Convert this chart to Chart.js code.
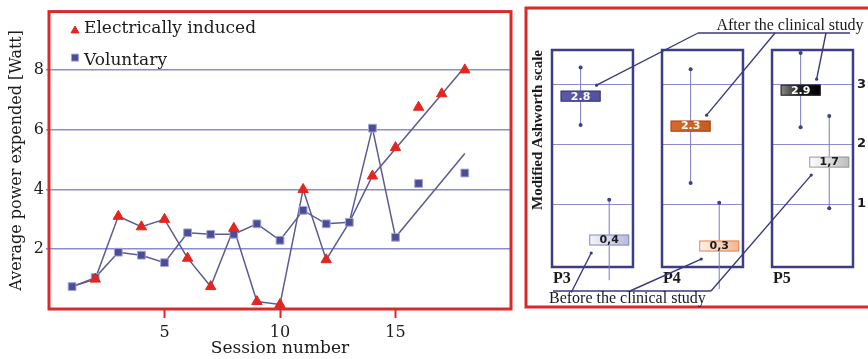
<!DOCTYPE html>
<html>
<head>
<meta charset="utf-8">
<script src="https://cdn.jsdelivr.net/npm/chart.js@4.4.1/dist/chart.umd.min.js"></script>
<style>
  body { margin: 0; background: #fff; width: 868px; height: 359px; overflow: hidden; position: relative; }
  #powerWrap { position: absolute; left: 0; top: 0; width: 518px; height: 359px; }
  #ashWrap { position: absolute; left: 520px; top: 0; width: 348px; height: 359px; }
</style>
</head>
<body>
<div id="powerWrap"><canvas id="powerChart" width="518" height="359"></canvas></div>
<div id="ashWrap"><canvas id="ashworthChart" width="348" height="359"></canvas></div>
<script>
// ---- left panel data: average power per session ----
const sessions   = [1, 2, 3, 4, 5, 6, 7, 8, 9, 10, 11, 12, 13, 14, 15, 16, 17, 18];
const electrical = [null, 1.0, 3.1, 2.75, 3.0, 1.7, 0.75, 2.7, 0.25, 0.15, 4.0, 1.65, null, 4.45, 5.4, 6.75, 7.2, 8.0];
const voluntary  = [0.75, 1.05, 1.9, 1.8, 1.55, 2.55, 2.5, 2.5, 2.85, 2.3, 3.3, 2.85, 2.9, 6.05, 2.4, 4.2, null, 4.55];
// connecting lines as drawn in the figure (last point = end of trend line)
const electricalLineX = [1, 2, 3, 4, 5, 6, 7, 8, 9, 10, 11, 12, 13, 14, 18];
const electricalLineY = [0.75, 1.0, 3.1, 2.75, 3.0, 1.7, 0.75, 2.7, 0.25, 0.15, 4.0, 1.65, 2.9, 4.45, 8.1];
const voluntaryLineX  = [1, 2, 3, 4, 5, 6, 7, 8, 9, 10, 11, 12, 13, 14, 15, 18];
const voluntaryLineY  = [0.75, 1.05, 1.9, 1.8, 1.55, 2.55, 2.5, 2.5, 2.85, 2.3, 3.3, 2.85, 2.9, 6.05, 2.4, 5.2];
const seriesNames = ['Electrically induced', 'Voluntary'];
const powerTicks = [2, 4, 6, 8];
const sessionTicks = [5, 10, 15];

// ---- right panel data: Modified Ashworth scale ----
const patients      = ['P3', 'P4', 'P5'];
const afterValues   = [2.8, 2.3, 2.9];
const afterSpread   = [0.48, 0.95, 0.62];
const beforeValues  = [0.4, 0.3, 1.7];
const beforeSpread  = [0.67, 0.72, 0.77];
const ashworthTicks = [1, 2, 3];

const RED = '#d92a2b';
const GRID = '#8b8bd0';
const LINE = '#5c5c93';
const serif = 'DejaVu Serif';

// red frame round the plot area
const redFrame = {
  id: 'redFrame',
  afterDatasetsDraw(chart, args, opts) {
    const { ctx, chartArea } = chart;
    const m = opts.margin || { l: 0, t: 0, r: 0, b: 0 };
    ctx.save();
    ctx.strokeStyle = RED;
    ctx.lineWidth = 3;
    ctx.strokeRect(chartArea.left - m.l, chartArea.top - m.t,
      chartArea.right - chartArea.left + m.l + m.r, chartArea.bottom - chartArea.top + m.t + m.b);
    ctx.restore();
  }
};

// legend drawn inside the plot, one item per row
const insideLegend = {
  id: 'insideLegend',
  afterDraw(chart) {
    const { ctx, chartArea } = chart;
    ctx.save();
    ctx.font = '17px "' + serif + '"';
    ctx.textBaseline = 'alphabetic';
    seriesNames.forEach((name, i) => {
      const ds = chart.data.datasets[i];
      const y = chartArea.top + 21 + i * 32;
      ctx.fillStyle = ds.backgroundColor;
      ctx.strokeStyle = ds.borderColor;
      Chart.helpers.drawPoint(ctx, { pointStyle: ds.pointStyle, radius: i === 0 ? 4.6 : 5, rotation: 0, borderWidth: 1 },
        chartArea.left + 26, y - (i === 0 ? 2 : 7));
      ctx.fillStyle = '#1b1b1b';
      ctx.fillText(name, chartArea.left + 35, y);
    });
    ctx.restore();
  }
};

new Chart(document.getElementById('powerChart'), {
  type: 'scatter',
  data: {
    datasets: [
      {
        label: seriesNames[0],
        data: sessions.map((s, i) => ({ x: s, y: electrical[i] })).filter(p => p.y !== null),
        pointStyle: 'triangle', pointRadius: 6,
        backgroundColor: '#e3261f', borderColor: '#e3261f', borderWidth: 1
      },
      {
        label: seriesNames[1],
        data: sessions.map((s, i) => ({ x: s, y: voluntary[i] })).filter(p => p.y !== null),
        pointStyle: 'rect', pointRadius: 5.5,
        backgroundColor: '#4d4d96', borderColor: '#a4a4d6', borderWidth: 1
      },
      {
        label: 'electrical line',
        data: electricalLineX.map((x, i) => ({ x: x, y: electricalLineY[i] })),
        showLine: true, pointRadius: 0, borderColor: LINE, borderWidth: 1.5
      },
      {
        label: 'voluntary line',
        data: voluntaryLineX.map((x, i) => ({ x: x, y: voluntaryLineY[i] })),
        showLine: true, pointRadius: 0, borderColor: LINE, borderWidth: 1.5
      }
    ]
  },
  options: {
    responsive: false,
    animation: false,
    devicePixelRatio: 1,
    layout: { padding: { top: 8, right: 6, left: 0, bottom: 0 } },
    plugins: { legend: { display: false }, tooltip: { enabled: false }, redFrame: {} },
    scales: {
      x: {
        type: 'linear', min: 0, max: 20,
        afterBuildTicks: s => { s.ticks = sessionTicks.map(v => ({ value: v })); },
        afterFit: s => { s.height = 50; },
        grid: { drawOnChartArea: false, drawTicks: true, tickLength: 9, tickColor: RED, tickWidth: 2 },
        border: { display: false },
        ticks: { padding: 5, color: '#1b1b1b', font: { family: serif, size: 16 } },
        title: { display: true, text: 'Session number', color: '#1b1b1b', font: { family: serif, size: 17 }, padding: { top: 0, bottom: 0 } }
      },
      y: {
        min: 0, max: 9.95,
        afterBuildTicks: s => { s.ticks = powerTicks.map(v => ({ value: v })); },
        afterFit: s => { s.width = 49; },
        grid: { color: GRID, lineWidth: 1.5, tickLength: 3 },
        border: { display: false },
        ticks: { padding: 2, color: '#1b1b1b', font: { family: serif, size: 16 } },
        title: { display: true, text: 'Average power expended [Watt]', color: '#1b1b1b', font: { family: serif, size: 16 }, padding: { top: 7, bottom: 0 } }
      }
    }
  },
  plugins: [redFrame, insideLegend]
});

// ---- right panel ----
const boxWidth = 0.736;     // width of each patient box in x units
const afterOffset = 0.26;   // bar positions inside a box
const beforeOffset = 0.52;

const errorBars = [];
patients.forEach((p, i) => {
  [[afterValues, afterSpread, afterOffset, 'after'], [beforeValues, beforeSpread, beforeOffset, 'before']].forEach(([vals, spread, off, tag]) => {
    errorBars.push({
      label: p + ' ' + tag,
      data: [{ x: i + off, y: vals[i] - spread[i] }, { x: i + off, y: vals[i] + spread[i] }],
      showLine: true, clip: false,
      borderColor: '#7c7cc2', borderWidth: 1,
      pointRadius: 2, pointBackgroundColor: '#3f3f88', pointBorderWidth: 0
    });
  });
});

const afterStyles = [
  { fill: ['#5a5aa6', '#5252a0'], border: '#3b3b80', text: '#ffffff' },
  { fill: ['#d86a2e', '#c65a20'], border: '#a8481a', text: '#ffffff' },
  { fill: ['#8a8a8a', '#1a1a1a', '#000000'], border: '#222222', text: '#ffffff' }
];
const beforeStyles = [
  { fill: ['#f4f4fb', '#b9b9de'], border: '#8a8ac0', text: '#1b1b1b' },
  { fill: ['#fff0e6', '#f3b592'], border: '#e08858', text: '#1b1b1b' },
  { fill: ['#ffffff', '#bdbdbd'], border: '#9a9a9a', text: '#1b1b1b' }
];

function valueBox(ctx, cx, cy, text, st) {
  const w = 40, h = 11;
  const g = ctx.createLinearGradient(cx - w / 2, 0, cx + w / 2, 0);
  st.fill.forEach((c, k) => g.addColorStop(k / (st.fill.length - 1), c));
  ctx.fillStyle = g;
  ctx.fillRect(cx - w / 2, cy - h / 2, w, h);
  ctx.strokeStyle = st.border;
  ctx.lineWidth = 1;
  ctx.strokeRect(cx - w / 2 + 0.5, cy - h / 2 + 0.5, w - 1, h - 1);
  ctx.fillStyle = st.text;
  ctx.font = 'bold 11px "DejaVu Sans"';
  ctx.textAlign = 'center';
  ctx.textBaseline = 'middle';
  ctx.fillText(text, cx, cy + 0.5);
}

const patientBoxes = {
  id: 'patientBoxes',
  beforeDatasetsDraw(chart) {
    const { ctx, chartArea, scales: { x, y } } = chart;
    ctx.save();
    patients.forEach((p, i) => {
      const l = x.getPixelForValue(i), r = x.getPixelForValue(i + boxWidth);
      ctx.strokeStyle = GRID;
      ctx.lineWidth = 1;
      ashworthTicks.forEach(t => {
        const py = Math.round(y.getPixelForValue(t)) + 0.5;
        ctx.beginPath(); ctx.moveTo(l, py); ctx.lineTo(r, py); ctx.stroke();
      });
      ctx.strokeStyle = '#3d3d85';
      ctx.lineWidth = 2.5;
      ctx.strokeRect(l, chartArea.top, r - l, chartArea.bottom - chartArea.top);
      ctx.fillStyle = '#1b1b1b';
      ctx.font = 'bold 16px "Liberation Serif"';
      ctx.textAlign = 'left';
      ctx.textBaseline = 'middle';
      ctx.fillText(p, l + 1, chartArea.bottom + 12);
    });
    // scale numbers to the right of the last box
    ctx.font = 'bold 13px "DejaVu Sans"';
    ctx.textBaseline = 'middle';
    ashworthTicks.forEach(t => ctx.fillText(String(t), chartArea.right + 4, y.getPixelForValue(t)));
    ctx.restore();
  },
  afterDatasetsDraw(chart) {
    const { ctx, chartArea, scales: { x, y } } = chart;
    ctx.save();
    const afterPts = [], beforePts = [];
    patients.forEach((p, i) => {
      const ax = x.getPixelForValue(i + afterOffset), ay = y.getPixelForValue(afterValues[i]);
      const bx = x.getPixelForValue(i + beforeOffset), by = y.getPixelForValue(beforeValues[i]);
      valueBox(ctx, ax, ay, afterValues[i].toFixed(1), afterStyles[i]);
      valueBox(ctx, bx, by, beforeValues[i].toFixed(1).replace('.', ','), beforeStyles[i]);
      afterPts.push([ax + 16, ay - 11]);
      beforePts.push([bx - 18, by + 13]);
    });

    // annotations with leader lines
    ctx.strokeStyle = '#3a3a7c';
    ctx.fillStyle = '#3a3a7c';
    ctx.lineWidth = 1.4;
    const topY = chartArea.top - 17;
    const aL = chartArea.left + 146, aR = chartArea.right - 3;
    ctx.beginPath(); ctx.moveTo(aL, topY); ctx.lineTo(aR, topY); ctx.stroke();
    const aStarts = [aL, aL + 77, aL + 128];
    afterPts.forEach(([tx, ty], i) => {
      ctx.beginPath(); ctx.moveTo(aStarts[i], topY); ctx.lineTo(tx, ty); ctx.stroke();
      ctx.beginPath(); ctx.arc(tx, ty, 1.6, 0, Math.PI * 2); ctx.fill();
    });
    const botY = chartArea.bottom + 24;
    const bL = chartArea.left + 1, bR = chartArea.left + 159;
    ctx.beginPath(); ctx.moveTo(bL, botY); ctx.lineTo(bR, botY); ctx.stroke();
    const bStarts = [bL + 19, bL + 77, bR];
    beforePts.forEach(([tx, ty], i) => {
      ctx.beginPath(); ctx.moveTo(bStarts[i], botY); ctx.lineTo(tx, ty); ctx.stroke();
      ctx.beginPath(); ctx.arc(tx, ty, 1.6, 0, Math.PI * 2); ctx.fill();
    });

    ctx.fillStyle = '#1b1b1b';
    ctx.font = '16px "Liberation Serif"';
    ctx.textBaseline = 'alphabetic';
    ctx.textAlign = 'center';
    ctx.fillText('After the clinical study', chartArea.left + 238, chartArea.top - 20);
    ctx.textAlign = 'left';
    ctx.fillText('Before the clinical study', chartArea.left - 3, chartArea.bottom + 36);
    ctx.restore();
  }
};

new Chart(document.getElementById('ashworthChart'), {
  type: 'scatter',
  data: { datasets: errorBars },
  options: {
    responsive: false,
    animation: false,
    devicePixelRatio: 1,
    layout: { padding: { top: 50, bottom: 92, left: 0, right: 0 } },
    plugins: {
      legend: { display: false }, tooltip: { enabled: false },
      redFrame: { margin: { l: 26, t: 42, r: 40, b: 40 } }
    },
    scales: {
      x: { type: 'linear', min: 0, max: 2.736, display: false },
      y: {
        position: 'right', min: -0.05, max: 3.57,
        afterBuildTicks: s => { s.ticks = ashworthTicks.map(v => ({ value: v })); },
        afterFit: s => { s.width = 15; },
        grid: { display: false },
        border: { display: false },
        ticks: { display: false }
      },
      yTitle: {
        type: 'linear', position: 'left',
        afterFit: s => { s.width = 32; },
        grid: { display: false },
        border: { display: false },
        ticks: { display: false },
        title: { display: true, text: 'Modified Ashworth scale', align: 'end', color: '#1b1b1b', font: { family: 'Liberation Serif', size: 15, weight: 'bold' }, padding: { top: 9, bottom: 0 } }
      }
    }
  },
  plugins: [redFrame, patientBoxes]
});
</script>
</body>
</html>
